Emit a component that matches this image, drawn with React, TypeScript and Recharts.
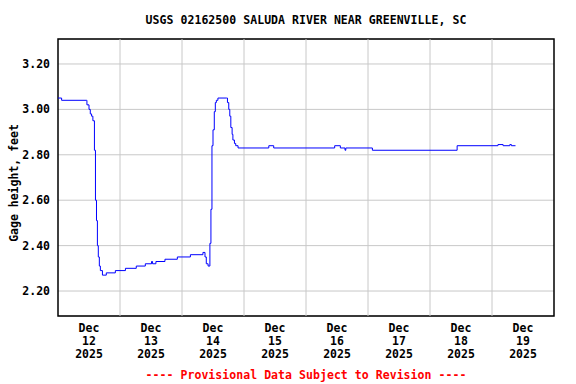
import React from 'react';
import {
  LineChart,
  Line,
  XAxis,
  YAxis,
  CartesianGrid,
  ReferenceArea,
  ReferenceLine,
} from 'recharts';

// hours since Dec 12 2025 00:00
const hours = [
  0, 1.4, 11, 11.2, 12, 12.5, 13, 13.5, 14.1, 14.5, 14.9, 15.25, 15.6, 16, 16.4,
  17.2, 18.7, 22.2, 26.1, 30.3, 33.8, 36.2, 36.6, 37.9, 41.4, 46.2, 51.25, 56.1,
  56.9, 57.4, 58.1, 58.8, 59.2, 59.6, 60, 60.5, 60.9, 61.3, 61.9, 65.2, 65.6, 66.1,
  66.5, 66.9, 67.4, 67.7, 68.3, 68.8, 69.7, 81.6, 83.5, 107.1, 109.3, 111.1, 111.4,
  121.7, 154.5, 170.3, 172.3, 174.9, 175.5, 177.1,
];

// gage height, feet
const stage = [
  3.05, 3.04, 3.04, 3.02, 3.0, 2.98, 2.97, 2.95, 2.82, 2.6, 2.51, 2.4, 2.35, 2.31, 2.29,
  2.27, 2.28, 2.29, 2.3, 2.31, 2.32, 2.33, 2.32, 2.33, 2.34, 2.35, 2.36, 2.37,
  2.35, 2.32, 2.31, 2.41, 2.56, 2.84, 2.91, 2.99, 3.03, 3.04, 3.05, 3.05, 3.03, 3.0,
  2.97, 2.92, 2.89, 2.865, 2.85, 2.84, 2.83, 2.84, 2.83, 2.84, 2.83, 2.82, 2.83,
  2.82, 2.84, 2.845, 2.84, 2.845, 2.84, 2.84,
];

// day boundaries get grid lines, middays get the labels
const midnights = [24, 48, 72, 96, 120, 144, 168];
const labelHours = [12, 36, 60, 84, 108, 132, 156, 180];
const labelDays = ['12', '13', '14', '15', '16', '17', '18', '19'];
const yTicks = [2.2, 2.4, 2.6, 2.8, 3.0, 3.2];

const data = hours.map((h, i) => ({ h, stage: stage[i] }));

const FONT = '"DejaVu Sans Mono", monospace';

function DayTick({ x, y, payload }: any) {
  const idx = labelHours.indexOf(payload.value);
  return (
    <text
      x={x}
      y={y}
      textAnchor="middle"
      fontFamily={FONT}
      fontWeight="bold"
      fontSize={11.5}
      fill="#000"
    >
      <tspan x={x} dy="0.71em">Dec</tspan>
      <tspan x={x} dy={13}>{labelDays[idx]}</tspan>
      <tspan x={x} dy={13}>2025</tspan>
    </text>
  );
}

export default function App() {
  return (
    <div
      style={{
        position: 'absolute',
        top: 0,
        left: 0,
        width: 576,
        height: 384,
        background: '#fff',
        fontFamily: FONT,
      }}
    >
      <div
        style={{
          position: 'absolute',
          top: 13,
          left: 58,
          width: 496,
          textAlign: 'center',
          fontSize: 11.5,
          fontWeight: 'bold',
          letterSpacing: 0.05,
          color: '#000',
        }}
      >
        USGS 02162500 SALUDA RIVER NEAR GREENVILLE, SC
      </div>
      <div
        style={{
          position: 'absolute',
          top: 183,
          left: 14,
          transform: 'translate(-50%, -50%) rotate(-90deg)',
          whiteSpace: 'nowrap',
          fontSize: 11.5,
          fontWeight: 'bold',
          color: '#000',
        }}
      >
        Gage height, feet
      </div>
      <LineChart
        width={576}
        height={384}
        data={data}
        margin={{ top: 39, right: 22, left: 0, bottom: 0 }}
      >
        <CartesianGrid stroke="#c8c8c8" strokeWidth={1} vertical={false} />
        <XAxis
          dataKey="h"
          type="number"
          domain={[0, 192]}
          ticks={labelHours}
          height={68}
          tickLine={false}
          axisLine={false}
          tick={<DayTick />}
          interval={0}
        />
        <YAxis
          type="number"
          domain={[2.09, 3.31]}
          ticks={yTicks}
          width={58}
          tickLine={false}
          axisLine={false}
          tickFormatter={(v: number) => v.toFixed(2)}
          tick={{ fontFamily: FONT, fontWeight: 'bold', fontSize: 11.5, fill: '#000' }}
          allowDataOverflow
        />
        {midnights.map((m) => (
          <ReferenceLine key={m} x={m} stroke="#c8c8c8" strokeWidth={1} />
        ))}
        <Line
          type="stepAfter"
          dataKey="stage"
          stroke="#0000ff"
          strokeWidth={1}
          dot={false}
          activeDot={false}
          isAnimationActive={false}
        />
        <ReferenceArea
          x1={0}
          x2={192}
          y1={2.09}
          y2={3.31}
          fill="none"
          stroke="#000"
          strokeWidth={1.5}
          ifOverflow="visible"
        />
      </LineChart>
      <div
        style={{
          position: 'absolute',
          top: 368,
          left: 58,
          width: 496,
          textAlign: 'center',
          fontSize: 11.5,
          fontWeight: 'bold',
          letterSpacing: 0.05,
          color: '#ff0000',
        }}
      >
        ---- Provisional Data Subject to Revision ----
      </div>
    </div>
  );
}
